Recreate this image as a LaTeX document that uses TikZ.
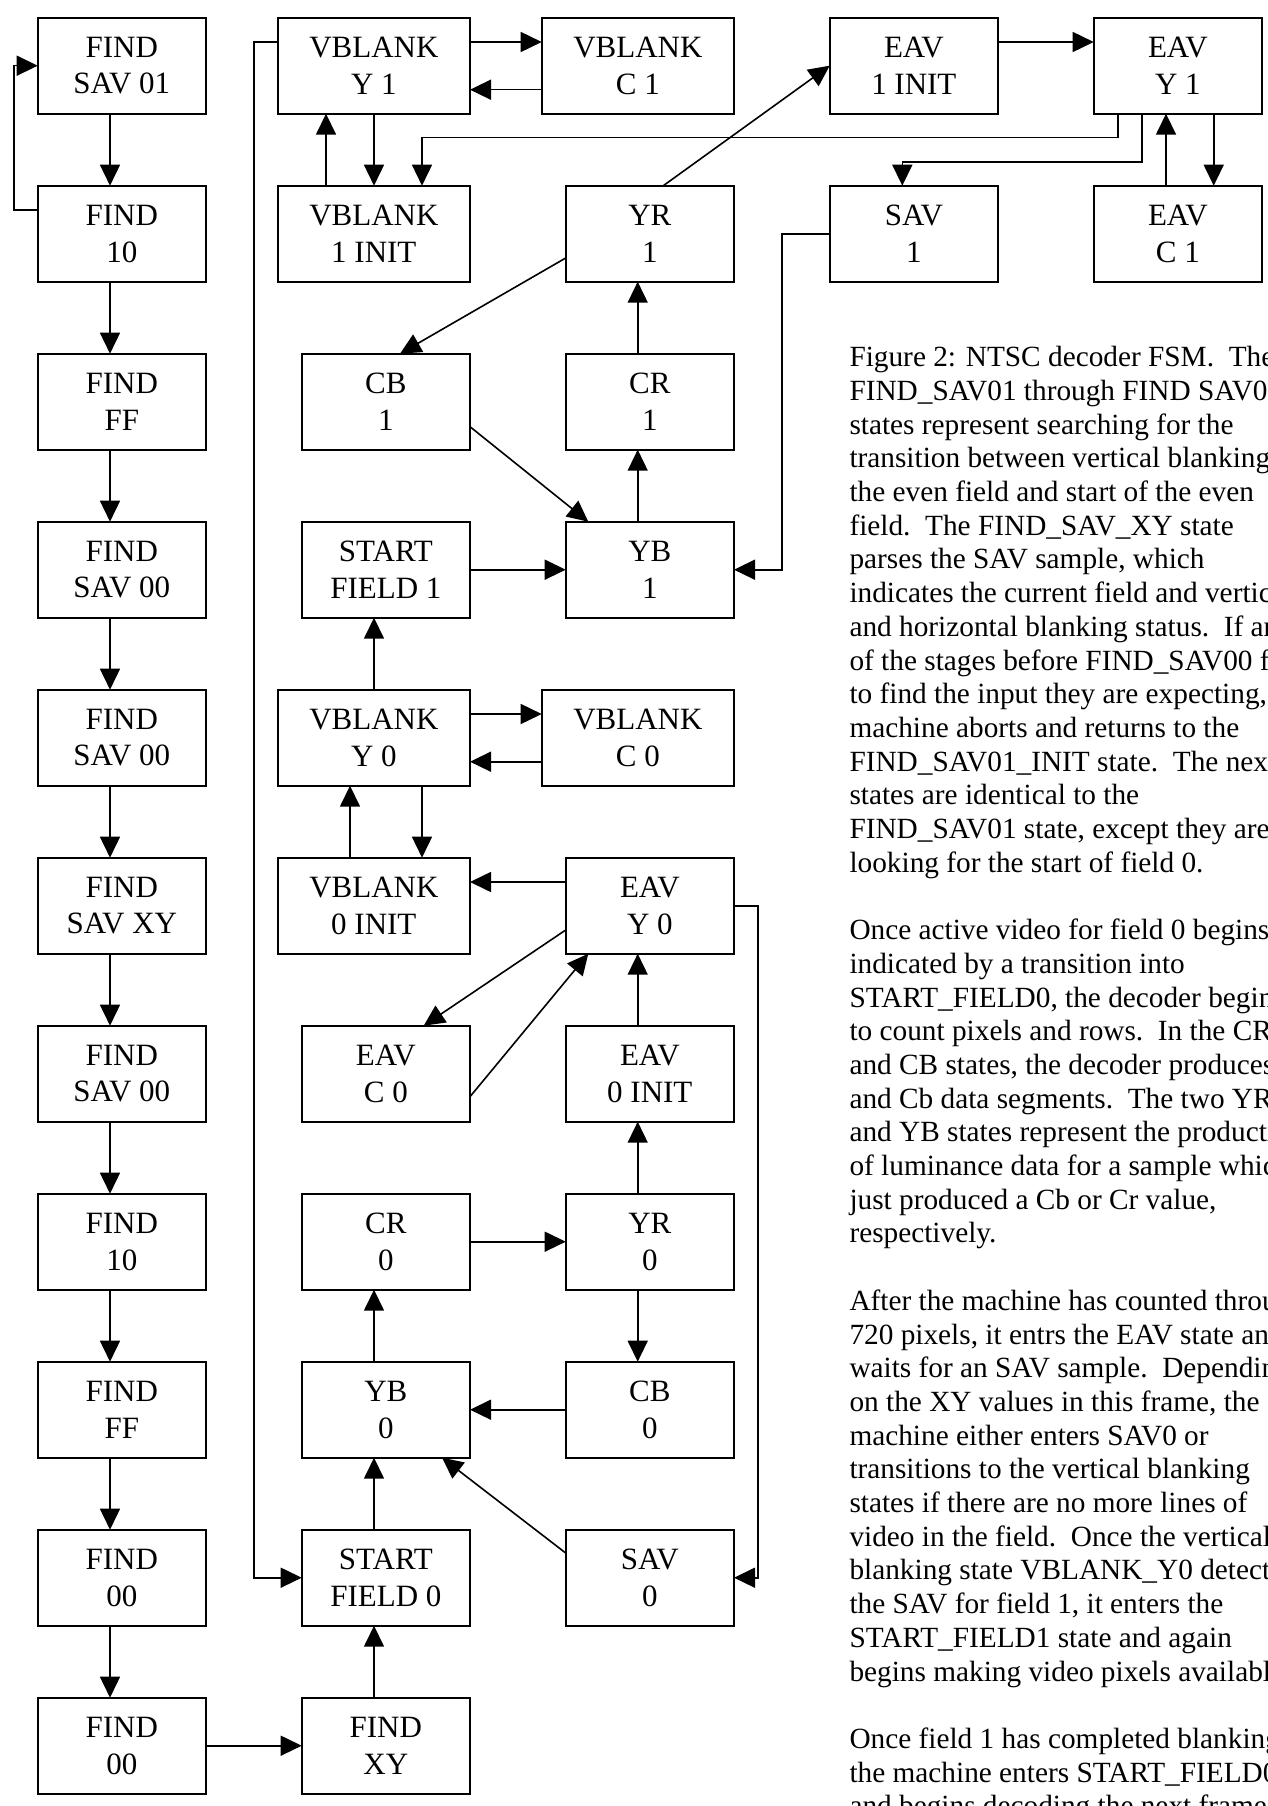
\documentclass[tikz,border=0pt]{standalone}
\usepackage{fontspec}
\setmainfont{Liberation Serif}
\usetikzlibrary{arrows.meta,calc}
\newcommand\myboxfont{\fontsize{31}{36.7}\selectfont}
\newcommand\mycapfont{\fontsize{29.3}{33.7}\selectfont}
\tikzset{
  st/.style={draw, line width=2pt, rectangle, inner sep=0pt, outer sep=0pt,
    minimum width=168.3pt, minimum height=96pt, anchor=north west,
    align=center, font=\myboxfont},
  wst/.style={st, minimum width=192.3pt},
  arr/.style={line width=1.6pt, -{Triangle[length=21pt,width=20pt]}},
}
\begin{document}
\begin{tikzpicture}[x=1pt,y=-1pt]
\useasboundingbox (0,0) rectangle (1267,1806);
\fill[white] (0,0) rectangle (1267,1806);
\clip (0,0) rectangle (1267,1806);

% column A
\foreach \t [count=\k from 0] in {{SAV 01},{10},{FF},{SAV 00},{SAV 00},{SAV XY},{SAV 00},{10},{FF},{00},{00}}
  \node[st] (A\k) at (37.7, 17.7+168*\k) {FIND\\\t};

% column B
\node[wst] (B0) at (277.7, 17.7)   {VBLANK\\Y 1};
\node[wst] (B1) at (277.7, 185.7)  {VBLANK\\1 INIT};
\node[st]  (B2) at (301.7, 353.7)  {CB\\1};
\node[st]  (B3) at (301.7, 521.7)  {START\\FIELD 1};
\node[wst] (B4) at (277.7, 689.7)  {VBLANK\\Y 0};
\node[wst] (B5) at (277.7, 857.7)  {VBLANK\\0 INIT};
\node[st]  (B6) at (301.7, 1025.7) {EAV\\C 0};
\node[st]  (B7) at (301.7, 1193.7) {CR\\0};
\node[st]  (B8) at (301.7, 1361.7) {YB\\0};
\node[st]  (B9) at (301.7, 1529.7) {START\\FIELD 0};
\node[st]  (B10) at (301.7, 1697.7) {FIND\\XY};

% column C
\node[wst] (C0) at (541.7, 17.7)   {VBLANK\\C 1};
\node[st]  (C1) at (565.7, 185.7)  {YR\\1};
\node[st]  (C2) at (565.7, 353.7)  {CR\\1};
\node[st]  (C3) at (565.7, 521.7)  {YB\\1};
\node[wst] (C4) at (541.7, 689.7)  {VBLANK\\C 0};
\node[st]  (C5) at (565.7, 857.7)  {EAV\\Y 0};
\node[st]  (C6) at (565.7, 1025.7) {EAV\\0 INIT};
\node[st]  (C7) at (565.7, 1193.7) {YR\\0};
\node[st]  (C8) at (565.7, 1361.7) {CB\\0};
\node[st]  (C9) at (565.7, 1529.7) {SAV\\0};

% columns D, E
\node[st] (D0) at (829.7, 17.7)  {EAV\\1 INIT};
\node[st] (D1) at (829.7, 185.7) {SAV\\1};
\node[st] (E0) at (1093.7, 17.7)  {EAV\\Y 1};
\node[st] (E1) at (1093.7, 185.7) {EAV\\C 1};

% column A chain
\foreach \k [evaluate=\k as \n using int(\k+1)] in {0,...,9}
  \draw[arr] ($(A\k.south west)+(72.3,0)$) -- ($(A\n.north west)+(72.3,0)$);
\draw[arr] ($(A1.north west)+(0,24.3)$) -- ++(-23.7,0) |- (A0.west);
\draw[arr] (A10.east) -- (B10.west);

% top VBLANK group
\draw[arr] ($(B0.north east)+(0,24.3)$) -- ($(C0.north west)+(0,24.3)$);
\draw[arr] ($(C0.south west)+(0,-24)$) -- ($(B0.south east)+(0,-24)$);
\draw[arr] ($(B1.north west)+(48.3,0)$) -- ($(B0.south west)+(48.3,0)$);
\draw[arr] ($(B0.south west)+(96.3,0)$) -- ($(B1.north west)+(96.3,0)$);
\draw[arr] ($(B0.north west)+(0,24.3)$) -- ++(-23.7,0) |- (B9.west);

% EAV 1 group
\draw[arr] ($(D0.north east)+(0,24.3)$) -- ($(E0.north west)+(0,24.3)$);
\draw[arr] ($(E1.north west)+(72.3,0)$) -- ($(E0.south west)+(72.3,0)$);
\draw[arr] ($(E0.south west)+(120,0)$) -- ($(E1.north west)+(120,0)$);
\draw[arr] ($(E0.south west)+(24.3,0)$) -- ++(0,24) -| ($(B1.north west)+(144.3,0)$);
\draw[arr] ($(E0.south west)+(48.3,0)$) -- ++(0,48.6) -| ($(D1.north west)+(72.6,0)$);
\draw[arr] (D1.west) -- ++(-47.7,0) |- (C3.east);

% field 1 active
\draw[arr] ($(C1.north west)+(97.6,0)$) -- (D0.west);
\draw[arr] ($(C1.north west)+(0,72.3)$) -- ($(B2.north west)+(98.3,0)$);
\draw[arr] ($(B2.north east)+(0,73)$) -- ($(C3.north west)+(22.6,0)$);
\draw[arr] ($(C3.north west)+(72,0)$) -- ($(C2.south west)+(72,0)$);
\draw[arr] ($(C2.north west)+(72,0)$) -- ($(C1.south west)+(72,0)$);
\draw[arr] (B3.east) -- (C3.west);

% VBLANK 0 group
\draw[arr] ($(B4.north west)+(96.3,0)$) -- ($(B3.south west)+(72.3,0)$);
\draw[arr] ($(B4.north east)+(0,24.3)$) -- ($(C4.north west)+(0,24.3)$);
\draw[arr] ($(C4.south west)+(0,-24)$) -- ($(B4.south east)+(0,-24)$);
\draw[arr] ($(B5.north west)+(72.3,0)$) -- ($(B4.south west)+(72.3,0)$);
\draw[arr] ($(B4.south west)+(144.3,0)$) -- ($(B5.north west)+(144.3,0)$);
\draw[arr] ($(C5.north west)+(0,24.3)$) -- ($(B5.north east)+(0,24.3)$);

% field 0 active
\draw[arr] ($(C5.north west)+(0,72.3)$) -- ($(B6.north west)+(122,0)$);
\draw[arr] ($(B6.north east)+(0,71)$) -- ($(C5.south west)+(22.6,0)$);
\draw[arr] ($(C6.north west)+(72,0)$) -- ($(C5.south west)+(72,0)$);
\draw[arr] ($(C7.north west)+(72,0)$) -- ($(C6.south west)+(72,0)$);
\draw[arr] (B7.east) -- (C7.west);
\draw[arr] ($(C7.south west)+(72,0)$) -- ($(C8.north west)+(72,0)$);
\draw[arr] (C8.west) -- (B8.east);
\draw[arr] ($(B8.north west)+(72.3,0)$) -- ($(B7.south west)+(72.3,0)$);
\draw[arr] ($(B9.north west)+(72.3,0)$) -- ($(B8.south west)+(72.3,0)$);
\draw[arr] ($(B10.north west)+(72.3,0)$) -- ($(B9.south west)+(72.3,0)$);
\draw[arr] ($(C9.north west)+(0,23.3)$) -- ($(B8.south west)+(140.3,0)$);
\draw[arr] ($(C5.north east)+(0,48.3)$) -- ++(23.7,0) |- (C9.east);

% caption
\node[anchor=base west, inner sep=0pt, font=\mycapfont] (caption) at (849.3,366.7) {\vtop{%
\hbox{Figure 2: NTSC decoder FSM.\ \ The}
\hbox{FIND\_SAV01 through FIND SAV00}
\hbox{states represent searching for the}
\hbox{transition between vertical blanking}
\hbox{the even field and start of the even}
\hbox{field.\ \ The FIND\_SAV\_XY state}
\hbox{parses the SAV sample, which}
\hbox{indicates the current field and vertical}
\hbox{and horizontal blanking status.\ \ If any}
\hbox{of the stages before FIND\_SAV00 fail}
\hbox{to find the input they are expecting, the}
\hbox{machine aborts and returns to the}
\hbox{FIND\_SAV01\_INIT state.\ \ The next}
\hbox{states are identical to the}
\hbox{FIND\_SAV01 state, except they are}
\hbox{looking for the start of field 0.}
\hbox{}
\hbox{Once active video for field 0 begins,}
\hbox{indicated by a transition into}
\hbox{START\_FIELD0, the decoder begins}
\hbox{to count pixels and rows.\ \ In the CR}
\hbox{and CB states, the decoder produces Cr}
\hbox{and Cb data segments.\ \ The two YR}
\hbox{and YB states represent the production}
\hbox{of luminance data for a sample which}
\hbox{just produced a Cb or Cr value,}
\hbox{respectively.}
\hbox{}
\hbox{After the machine has counted through}
\hbox{720 pixels, it entrs the EAV state and}
\hbox{waits for an SAV sample.\ \ Depending}
\hbox{on the XY values in this frame, the}
\hbox{machine either enters SAV0 or}
\hbox{transitions to the vertical blanking}
\hbox{states if there are no more lines of}
\hbox{video in the field.\ \ Once the vertical}
\hbox{blanking state VBLANK\_Y0 detects}
\hbox{the SAV for field 1, it enters the}
\hbox{START\_FIELD1 state and again}
\hbox{begins making video pixels available.}
\hbox{}
\hbox{Once field 1 has completed blanking,}
\hbox{the machine enters START\_FIELD0}
\hbox{and begins decoding the next frame.}}};
\end{tikzpicture}
\end{document}
